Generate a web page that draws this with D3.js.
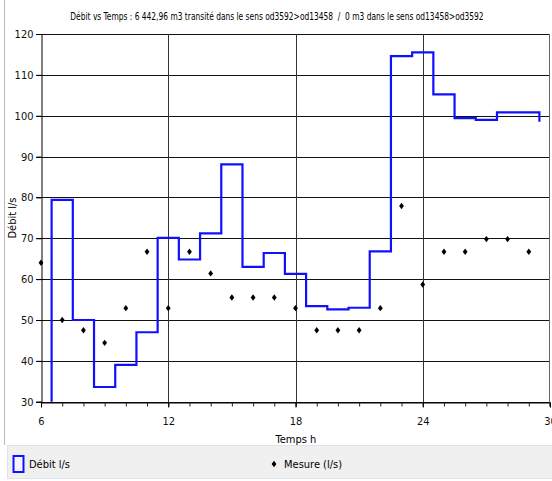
<!DOCTYPE html>
<html><head><meta charset="utf-8">
<script src="https://cdn.jsdelivr.net/npm/d3@7"></script>
<style>body{margin:0;background:#fff}svg{display:block}text{font-family:"DejaVu Sans Condensed","Liberation Sans Narrow",sans-serif}</style>
</head><body><svg id="c" width="552" height="481"></svg>
<script>
const title = "Débit vs Temps : 6 442,96 m3 transité dans le sens od3592>od13458  /  0 m3 dans le sens od13458>od3592";
const flowHours = [6.5, 6.5, 7.5, 8.5, 9.5, 10.5, 11.5, 12.5, 13.5, 14.5, 15.5, 16.5, 17.5, 18.5, 19.5, 20.5, 21.5, 22.5, 23.5, 24.5, 25.5, 26.5, 27.5, 28.5, 29.5];
const flowValues = [0, 79.4, 50, 33.6, 39, 47, 70.1, 64.8, 71.2, 88.1, 63, 66.4, 61.3, 53.4, 52.6, 53, 66.8, 114.6, 115.5, 105.2, 99.4, 99, 100.8, 100.8, 98.5];
const measureHours = [6, 7, 8, 9, 10, 11, 12, 13, 14, 15, 16, 17, 18, 19, 20, 21, 22, 23, 24, 25, 26, 27, 28, 29];
const measureValues = [64, 50, 47.5, 44.4, 52.9, 66.7, 52.9, 66.7, 61.4, 55.5, 55.5, 55.5, 52.9, 47.5, 47.5, 47.5, 52.9, 77.9, 58.7, 66.7, 66.7, 69.8, 69.8, 66.7];
const xTicks = [6, 12, 18, 24, 30];
const yTicks = [30, 40, 50, 60, 70, 80, 90, 100, 110, 120];

const svg = d3.select("#c");
const L = 41, R = 550, T = 34, B = 401.7;
const x = d3.scaleLinear().domain([6, 30]).range([L, R]);
const y = d3.scaleLinear().domain([30, 120]).range([B, T]);

// outer frame
svg.append("line").attr("x1", 4.5).attr("x2", 4.5).attr("y1", 0).attr("y2", 445).attr("stroke", "#b8b8b8");

const tt = svg.append("text").attr("text-anchor", "middle")
  .style("white-space", "pre").attr("xml:space", "preserve")
  .attr("font-size", 10.5).text(title);
const natural = tt.node().getComputedTextLength();
tt.attr("transform", `translate(277,20) scale(${414 / natural},1)`);

// grid horizontal
svg.append("g").selectAll("line").data(yTicks).join("line")
  .attr("x1", L - 5).attr("x2", R).attr("y1", d => Math.round(y(d)) + 0.5).attr("y2", d => Math.round(y(d)) + 0.5)
  .attr("stroke", "#111").attr("stroke-width", 1);
// vertical grid
svg.append("g").selectAll("line").data([12, 18, 24]).join("line")
  .attr("x1", d => Math.round(x(d)) + 0.5).attr("x2", d => Math.round(x(d)) + 0.5).attr("y1", T).attr("y2", B + 5)
  .attr("stroke", "#333");
// right border
svg.append("line").attr("x1", R - 0.5).attr("x2", R - 0.5).attr("y1", T).attr("y2", B + 5).attr("stroke", "#666");

// axes
const yAxis = d3.axisLeft(y).tickValues(yTicks).tickSize(5).tickPadding(3);
const gy = svg.append("g").attr("transform", `translate(${L + 0.5},0)`).call(yAxis);
gy.select(".domain").attr("stroke", "#000");
gy.selectAll("text").attr("font-size", 11).attr("fill", "#111");

const xMinor = d3.axisBottom(x).tickValues(d3.range(6, 31)).tickSize(4).tickFormat("");
const gxm = svg.append("g").attr("transform", `translate(0,${Math.round(B) + 0.5})`).call(xMinor);
gxm.select(".domain").attr("stroke", "#000");
gxm.selectAll("line").attr("stroke", "#222");
const xAxis = d3.axisBottom(x).tickValues(xTicks).tickSize(5).tickPadding(10).tickFormat(d3.format("d"));
const gx = svg.append("g").attr("transform", `translate(0,${Math.round(B) + 0.5})`).call(xAxis);
gx.select(".domain").remove();
gx.selectAll("text").attr("font-size", 11).attr("fill", "#111");

svg.append("text").attr("x", 296).attr("y", 443).attr("text-anchor", "middle").attr("font-size", 11).text("Temps h");
svg.append("text").attr("transform", "translate(16,218) rotate(-90)").attr("text-anchor", "middle").attr("font-size", 11).text("Débit l/s");

// clip
svg.append("clipPath").attr("id", "clip").append("rect").attr("x", L).attr("y", T - 3).attr("width", R - L).attr("height", B - T + 3);

const line = d3.line().x((d, i) => x(flowHours[i])).y(d => y(d)).curve(d3.curveStepAfter);
svg.append("path").attr("clip-path", "url(#clip)").attr("d", line(flowValues))
  .attr("fill", "none").attr("stroke", "#1010ff").attr("stroke-width", 2.2);

const diamond = "M0,-3.2L2.4,0L0,3.2L-2.4,0Z";
svg.append("g").selectAll("path").data(measureValues).join("path")
  .attr("transform", (d, i) => `translate(${x(measureHours[i])},${y(d)})`)
  .attr("d", diamond).attr("fill", "#000");

// legend
svg.append("rect").attr("x", 7.5).attr("y", 445.5).attr("width", 550).attr("height", 33).attr("fill", "#f0f0f0").attr("stroke", "#dde3ea");
svg.append("rect").attr("x", 13.5).attr("y", 456).attr("width", 10).attr("height", 16).attr("fill", "#f4f4ff").attr("stroke", "#1010ff").attr("stroke-width", 2);
svg.append("text").attr("x", 29).attr("y", 468).attr("font-size", 11).text("Débit l/s");
svg.append("path").attr("transform", "translate(274,464)").attr("d", diamond).attr("fill", "#000");
svg.append("text").attr("x", 284).attr("y", 468).attr("font-size", 11).text("Mesure (l/s)");
</script></body></html>
